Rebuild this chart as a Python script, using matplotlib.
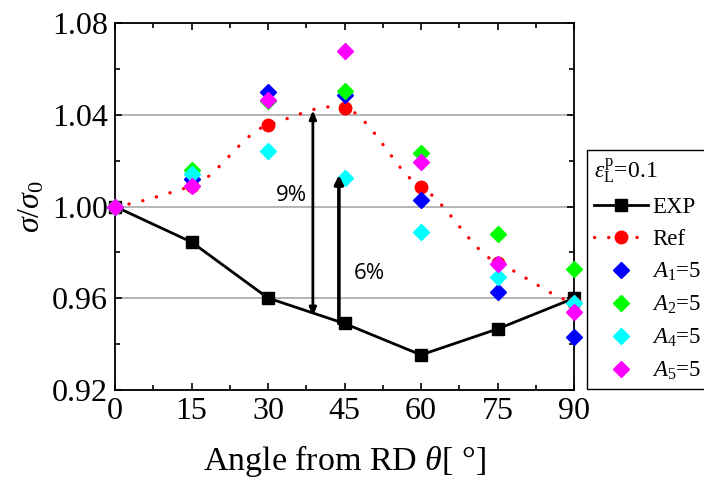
import numpy as np
import matplotlib
matplotlib.use("Agg")
import matplotlib.pyplot as plt
from matplotlib.ticker import MultipleLocator

plt.rcParams['font.family'] = ['Liberation Serif', 'DejaVu Serif']
plt.rcParams['mathtext.fontset'] = 'custom'
plt.rcParams['mathtext.rm'] = 'Liberation Serif'
plt.rcParams['mathtext.it'] = 'Liberation Serif:italic'
plt.rcParams['mathtext.bf'] = 'Liberation Serif:bold'

# ---- data ----
angles = [0, 15, 30, 45, 60, 75, 90]
exp_vals = [1.000, 0.9845, 0.9601, 0.9490, 0.9353, 0.9466, 0.9600]
ref_vals = [1.000, 1.0088, 1.0355, 1.0430, 1.0085, 0.9754, 0.9580]
a1_vals = [1.000, 1.0120, 1.0499, 1.0486, 1.0028, 0.9627, 0.9432]
a2_vals = [1.000, 1.0159, 1.0462, 1.0503, 1.0233, 0.9880, 0.9727]
a4_vals = [1.000, 1.0142, 1.0242, 1.0124, 0.9889, 0.9693, 0.9580]
a5_vals = [1.000, 1.0089, 1.0464, 1.0678, 1.0194, 0.9750, 0.9540]

xticks = [0, 15, 30, 45, 60, 75, 90]
yticks = [0.92, 0.96, 1.00, 1.04, 1.08]

# arrows: (x, y_bottom, y_top)
arrow9 = (38.8, 0.9520, 1.0420)
arrow6 = (43.9, 0.9490, 1.0137)
label9 = ("9%", 34.5, 1.0050)
label6 = ("6%", 49.8, 0.9706)


def cardinal_spline(x, y, tension=0.5, n=40):
    x = np.asarray(x, float)
    y = np.asarray(y, float)
    m = len(x)
    t = np.zeros(m)
    t[0] = (y[1] - y[0]) / (x[1] - x[0])
    t[-1] = (y[-1] - y[-2]) / (x[-1] - x[-2])
    for i in range(1, m - 1):
        t[i] = (y[i + 1] - y[i - 1]) / (x[i + 1] - x[i - 1])
    t = t * (1 - tension)
    xs_all, ys_all = [], []
    for i in range(m - 1):
        h = x[i + 1] - x[i]
        s = np.linspace(0, 1, n, endpoint=(i == m - 2))
        h00 = 2 * s**3 - 3 * s**2 + 1
        h10 = s**3 - 2 * s**2 + s
        h01 = -2 * s**3 + 3 * s**2
        h11 = s**3 - s**2
        xs_all.append(x[i] + s * h)
        ys_all.append(h00 * y[i] + h10 * h * t[i] + h01 * y[i + 1] + h11 * h * t[i + 1])
    return np.concatenate(xs_all), np.concatenate(ys_all)


fig = plt.figure(figsize=(7.04, 4.83), dpi=100)
ax = fig.add_axes([115 / 704, 1 - 390 / 483, (574 - 115) / 704, (390 - 23) / 483])

ax.set_xlim(0, 90)
ax.set_ylim(0.92, 1.08)
ax.set_xticks(xticks)
ax.set_yticks(yticks)
ax.set_yticklabels([f"{v:.2f}" for v in yticks])
ax.xaxis.set_minor_locator(MultipleLocator(7.5))
ax.yaxis.set_minor_locator(MultipleLocator(0.02))
ax.tick_params(which='both', direction='in', top=True, right=True, labelsize=23, width=1.2)
ax.tick_params(which='major', length=5)
ax.tick_params(which='minor', length=3.5)
ax.tick_params(axis='x', pad=5)
ax.tick_params(axis='y', pad=5)
for s in ax.spines.values():
    s.set_linewidth(1.3)

ax.yaxis.grid(True, color='#a8a8a8', linewidth=1.2, zorder=0)
ax.set_axisbelow(True)

# EXP
exp_line, = ax.plot(angles, exp_vals, color='black', lw=2, marker='s', ms=9,
                    label='EXP', zorder=3, clip_on=False)

# Ref
dot_style = (0, (0.05, 4.2))
xs, ys = cardinal_spline(angles, ref_vals, tension=0.45)
ax.plot(xs, ys, color='red', lw=2.4, linestyle=dot_style, dash_capstyle='round', zorder=3,
        clip_on=False)
ax.plot(angles, ref_vals, color='red', ls='none', marker='o', ms=9, zorder=3, clip_on=False)
ref_handle, = ax.plot([], [], color='red', lw=2.4, linestyle=dot_style, marker='o', ms=9,
                      dash_capstyle='round', label='Ref')

series = [(a1_vals, '#0000ff', r'$A_1$=5'),
          (a2_vals, '#00ff00', r'$A_2$=5'),
          (a4_vals, '#00ffff', r'$A_4$=5'),
          (a5_vals, '#ff00ff', r'$A_5$=5')]
handles = [exp_line, ref_handle]
for vals, col, lab in series:
    h, = ax.plot(angles, vals, ls='none', marker='D', ms=8, color=col, mec=col,
                 label=lab, zorder=4, clip_on=False)
    handles.append(h)

# arrows
ax.annotate('', xy=(arrow9[0], arrow9[2]), xytext=(arrow9[0], arrow9[1]),
            arrowprops=dict(arrowstyle='<|-|>,head_length=0.5,head_width=0.2', color='black',
                            lw=2, shrinkA=0, shrinkB=0), zorder=5)
ax.annotate('', xy=(arrow6[0], arrow6[2]), xytext=(arrow6[0], arrow6[1]),
            arrowprops=dict(arrowstyle='-|>,head_length=0.5,head_width=0.25', color='black',
                            lw=2.6, shrinkA=0, shrinkB=0), zorder=5)
ax.text(label9[1], label9[2], label9[0], family='Open Sans', fontsize=16,
        ha='center', va='center')
ax.text(label6[1], label6[2], label6[0], family='Open Sans', fontsize=16,
        ha='center', va='center')

ax.set_xlabel(r'Angle from RD $\theta$[ °]', fontsize=24.5, labelpad=12)
ax.set_ylabel(r'$\sigma/\sigma_0$', fontsize=23, labelpad=4)

leg = fig.legend(handles=handles, loc='upper left', bbox_to_anchor=(587 / 704, 1 - 150 / 483),
                 title=r'$\varepsilon_{\rm L}^{\rm p}$=0.1', title_fontsize=17, fontsize=16.5,
                 frameon=True, fancybox=False, edgecolor='black', framealpha=1,
                 handlelength=2.35, handletextpad=0.2, borderpad=0.3, borderaxespad=0,
                 labelspacing=0.47, alignment='left')
leg.get_frame().set_linewidth(1.0)

fig.savefig('out.png', dpi=100)
